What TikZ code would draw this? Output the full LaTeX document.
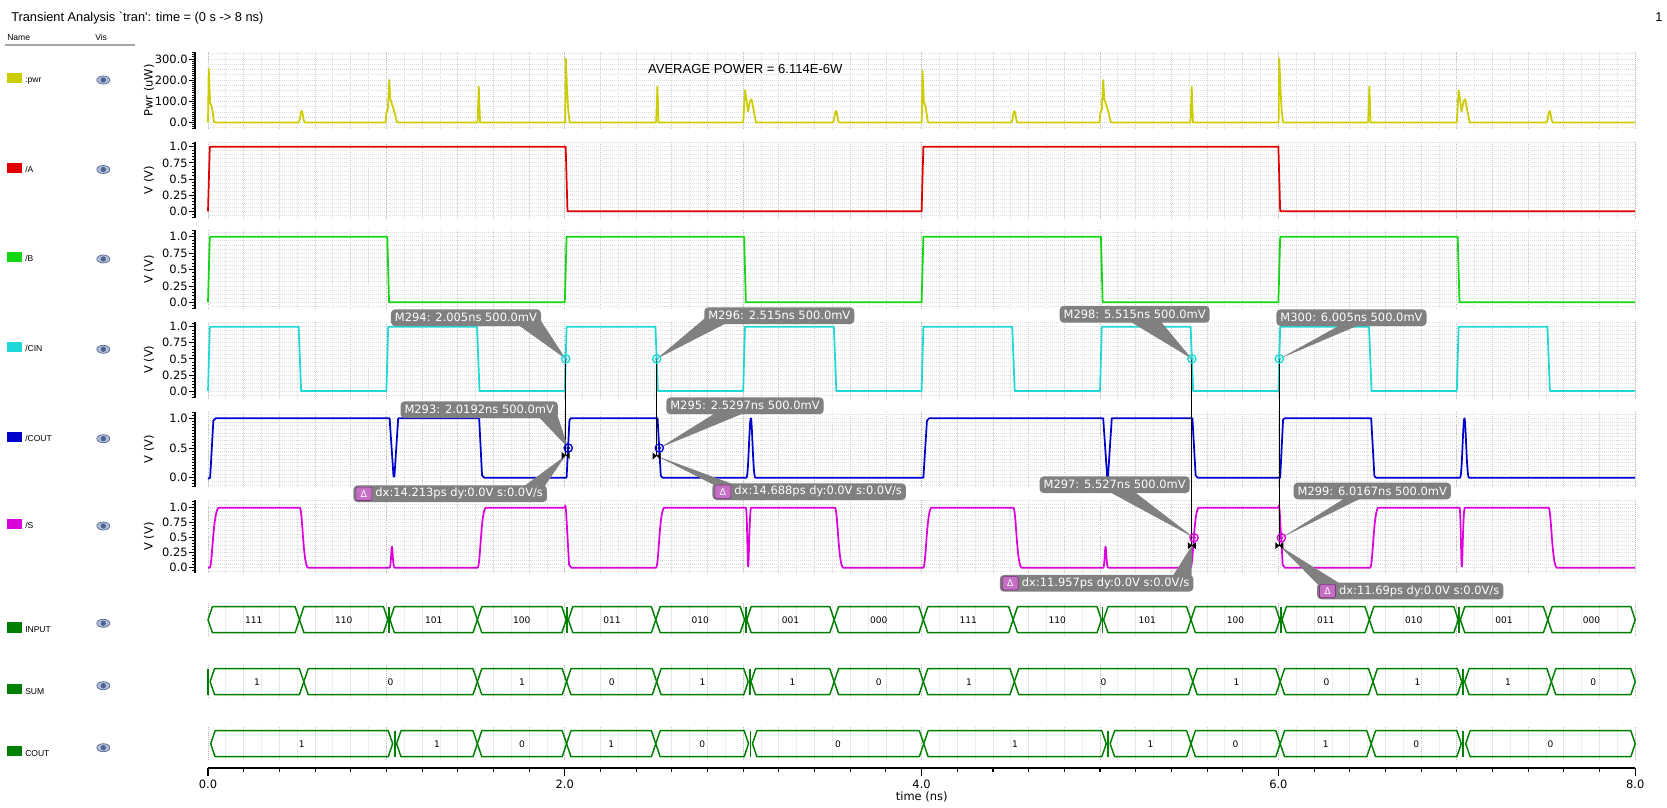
\documentclass[tikz,border=0pt]{standalone}
\usepackage{fontspec}
\setmainfont{DejaVu Sans}
\newfontfamily\lib[Ligatures=TeXOff]{Liberation Sans}
\usetikzlibrary{calc}
\pgfdeclarelayer{wedgelayer}
\pgfdeclarelayer{toplayer}
\pgfsetlayers{main,wedgelayer,toplayer}
\definecolor{pwrc}{RGB}{204,204,0}
\definecolor{ac}{RGB}{225,0,0}
\definecolor{bc}{RGB}{20,215,20}
\definecolor{cinc}{RGB}{30,215,215}
\definecolor{coutc}{RGB}{0,0,205}
\definecolor{sc}{RGB}{220,0,220}
\definecolor{busc}{RGB}{0,128,0}
\definecolor{calgray}{RGB}{128,128,128}
\definecolor{dpurple}{RGB}{196,110,196}
\definecolor{dpurpled}{RGB}{130,50,130}
\definecolor{eyefill}{RGB}{175,190,215}
\definecolor{eyedark}{RGB}{80,100,145}
\newcommand{\vgrid}[2]{%
  \foreach \i in {0,...,80} {\draw[gridl] ({208+17.84*\i},#1) -- ({208+17.84*\i},#2);}
  \foreach \i in {0,2,...,80} {\draw[gridm] ({208+17.84*\i},#1) -- ({208+17.84*\i},#2);}
  \foreach \i in {0,10,...,80} {\draw[gridM] ({208+17.84*\i},#1) -- ({208+17.84*\i},#2);}}
\newcommand{\hgrid}[5]{%
  \foreach \k in {#4,...,#5} {\draw[gridl] (208,{#1-#2*#3*\k}) -- (1635,{#1-#2*#3*\k});}}
\newcommand{\yaxis}[7]{%
  \draw[axl] (195,#1) -- (195,#2);
  \foreach \k in {#6,...,#7} {\draw[axt] (192,{#3-#4*#5*\k}) -- (195,{#3-#4*#5*\k});}}
\newcommand{\bseg}[5]{%
  \draw[busl] ({208+178.4*(#1)},#3) -- ({208+178.4*(#1)+4.4},{#3-13}) -- ({208+178.4*(#2)-4.4},{#3-13}) -- ({208+178.4*(#2)},#3) -- ({208+178.4*(#2)-4.4},{#3+13}) -- ({208+178.4*(#1)+4.4},{#3+13}) -- cycle;
  \node[busval] (#5) at ({208+178.4*((#1)+(#2))/2},#3) {#4};}
\newcommand{\bbar}[2]{\draw[busc, line width=1.4pt] ({208+178.4*(#1)},{#2-13}) -- ({208+178.4*(#1)},{#2+13});}
\newcommand{\eyeicon}[2]{\filldraw[fill=eyefill, draw=eyedark, line width=0.5pt] (#1,#2) ellipse [x radius=6.5, y radius=4]; \fill[eyedark] (#1,#2) circle [radius=2pt];}
\begin{document}
\begin{tikzpicture}[x=0.75pt,y=-0.75pt,
  gridl/.style={draw=gray!27, line width=0.6pt, dash pattern=on 0.75pt off 0.75pt},
  gridm/.style={draw=gray!40, line width=0.6pt, dash pattern=on 0.75pt off 0.75pt},
  gridM/.style={draw=gray!58, line width=0.6pt, dash pattern=on 0.75pt off 0.75pt},
  wave/.style={line width=1.3pt, line join=round},
  busl/.style={draw=busc, line width=1.1pt, line join=round},
  axl/.style={draw=black, line width=1.2pt},
  axt/.style={draw=black, line width=0.6pt},
  tl/.style={font=\fontsize{8.6}{10}\selectfont, anchor=east, inner sep=0pt},
  mcall/.style={fill=calgray, text=white, rounded corners=3pt, font=\fontsize{8.6}{10}\selectfont, inner xsep=3pt, inner ysep=0pt, minimum height=12.5pt},
  dicon/.style={fill=dpurple, draw=dpurpled, line width=0.5pt, rounded corners=1pt, minimum width=12pt, minimum height=10pt, inner sep=0pt, text=white, font=\fontsize{7}{8}\selectfont},
  leftlab/.style={font=\lib\fontsize{6.4}{7}\selectfont, anchor=base west, inner sep=0pt},
  busval/.style={font=\fontsize{6.8}{8}\selectfont, inner sep=0pt},
  ylab/.style={rotate=90, font=\fontsize{8.6}{10}\selectfont, inner sep=0pt}]
\useasboundingbox (0,0) rectangle (1667,807);
\fill[white] (0,0) rectangle (1667,807);
% header
\node[anchor=base west, inner sep=0pt, font=\lib\fontsize{9.6}{11}\selectfont] (title) at (11,21.7) {Transient Analysis `tran': time = (0 s -> 8 ns)};
\node[anchor=base west, inner sep=0pt, font=\lib\fontsize{9.6}{11}\selectfont] (pgnum) at (1655,21.7) {1};
\node[leftlab] (hname) at (7,40) {Name};
\node[leftlab] (hvis) at (95,40) {Vis};
\draw[gray!70, line width=1.5pt] (5,44.5) -- (135,44.5);
% left list
\fill[pwrc] (7,73) rectangle (22,83); \node[leftlab] (lpwr) at (25,82.5) {:pwr}; \eyeicon{103.3}{80}
\fill[ac] (7,162.5) rectangle (22,172.5); \node[leftlab] (la) at (25,172) {/A}; \eyeicon{103.3}{169.5}
\fill[bc] (7,252) rectangle (22,262); \node[leftlab] (lb) at (25,261.5) {/B}; \eyeicon{103.3}{259}
\fill[cinc] (7,342.3) rectangle (22,352.3); \node[leftlab] (lcin) at (25,351.8) {/CIN}; \eyeicon{103.3}{349.3}
\fill[coutc] (7,431.7) rectangle (22,441.7); \node[leftlab] (lcout) at (25,441.2) {/COUT}; \eyeicon{103.3}{438.7}
\fill[sc] (7,519) rectangle (22,529); \node[leftlab] (ls) at (25,528.5) {/S}; \eyeicon{103.3}{526}
\fill[busc] (7,622) rectangle (22,632.5); \node[leftlab] (linput) at (25,632.5) {INPUT}; \eyeicon{103.3}{623.3}
\fill[busc] (7,683.5) rectangle (22,694); \node[leftlab] (lsum) at (25,694) {SUM}; \eyeicon{103.3}{685.7}
\fill[busc] (7,745.5) rectangle (22,756); \node[leftlab] (lcoutb) at (25,756) {COUT}; \eyeicon{103.3}{747.7}
% grids
\vgrid{52}{129} \hgrid{122.5}{0.212}{25}{-1}{13}
\vgrid{141.7}{218.3} \hgrid{211.3}{64.6}{0.0625}{-1}{17}
\vgrid{230}{309} \hgrid{302.3}{65.6}{0.0625}{-1}{17}
\vgrid{321.7}{398} \hgrid{391}{64.3}{0.0625}{-1}{17}
\vgrid{411.7}{486.7} \hgrid{477.7}{59.4}{0.0625}{-2}{17}
\vgrid{500}{573} \hgrid{567.7}{60}{0.0625}{-1}{18}
\vgrid{603}{637} \vgrid{665}{699} \vgrid{727}{761}
% y axes
\yaxis{52}{129}{122.5}{0.212}{10}{-3}{33}
\foreach \v/\lab [count=\n] in {300/300.0,200/200.0,100/100.0,0/0.0} {\draw[axt] (189,{122.5-0.212*\v}) -- (195,{122.5-0.212*\v}); \node[tl] (tp\n) at (188,{122.5-0.212*\v}) {\lab};}
\node[ylab] (ylp) at (149,90.5) {Pwr (uW)};
\yaxis{141.7}{218.3}{211.3}{64.6}{0.05}{-2}{21}
\foreach \v/\lab [count=\n] in {1/1.0,0.75/0.75,0.5/0.5,0.25/0.25,0/0.0} {\draw[axt] (189,{211.3-64.6*\v}) -- (195,{211.3-64.6*\v}); \node[tl] (ta\n) at (188,{211.3-64.6*\v}) {\lab};}
\node[ylab] (yla) at (149,180) {V (V)};
\yaxis{230}{309}{302.3}{65.6}{0.05}{-2}{22}
\foreach \v/\lab [count=\n] in {1/1.0,0.75/0.75,0.5/0.5,0.25/0.25,0/0.0} {\draw[axt] (189,{302.3-65.6*\v}) -- (195,{302.3-65.6*\v}); \node[tl] (tb\n) at (188,{302.3-65.6*\v}) {\lab};}
\node[ylab] (ylb) at (149,269.5) {V (V)};
\yaxis{321.7}{398}{391}{64.3}{0.05}{-2}{21}
\foreach \v/\lab [count=\n] in {1/1.0,0.75/0.75,0.5/0.5,0.25/0.25,0/0.0} {\draw[axt] (189,{391-64.3*\v}) -- (195,{391-64.3*\v}); \node[tl] (tc\n) at (188,{391-64.3*\v}) {\lab};}
\node[ylab] (ylc) at (149,359.8) {V (V)};
\yaxis{411.7}{486.7}{477.7}{59.4}{0.05}{-3}{22}
\foreach \v/\lab [count=\n] in {1/1.0,0.5/0.5,0/0.0} {\draw[axt] (189,{477.7-59.4*\v}) -- (195,{477.7-59.4*\v}); \node[tl] (to\n) at (188,{477.7-59.4*\v}) {\lab};}
\node[ylab] (ylo) at (149,449.2) {V (V)};
\yaxis{500}{573}{567.7}{60}{0.05}{-1}{22}
\foreach \v/\lab [count=\n] in {1/1.0,0.75/0.75,0.5/0.5,0.25/0.25,0/0.0} {\draw[axt] (189,{567.7-60*\v}) -- (195,{567.7-60*\v}); \node[tl] (ts\n) at (188,{567.7-60*\v}) {\lab};}
\node[ylab] (yls) at (149,536.5) {V (V)};
% x axis
\draw[axl, line width=1pt] (208,768) -- (1635,768);
\foreach \i in {0,...,40} {\draw[axt, line width=0.8pt] ({208+35.68*\i},768) -- ({208+35.68*\i},771.5);}
\foreach \i/\lab in {0/0.0,10/2.0,20/4.0,30/6.0,40/8.0} {\draw[axt, line width=0.8pt] ({208+35.68*\i},768) -- ({208+35.68*\i},776); \node[inner sep=0pt, font=\fontsize{8.6}{10}\selectfont] (xl\i) at ({208+35.68*\i},784) {\lab};}
\node[inner sep=0pt, font=\fontsize{8.6}{10}\selectfont] (xtitle) at (921.7,797) {time (ns)};
% pwr
\begin{scope}[shift={(208,122.5)}, xscale=178.4, yscale=-0.212]
\draw[wave, pwrc] (0,0) -- (0.004,255) -- (0.012,95) -- (0.022,72) -- (0.034,3) -- (0.04,0)
 -- (0.507,0) .. controls (0.516,0) and (0.518,55) .. (0.525,55) .. controls (0.532,55) and (0.534,0) .. (0.543,0)
 -- (0.995,0) -- (1.0,45) -- (1.008,60) -- (1.016,200) -- (1.022,110) -- (1.034,80) -- (1.045,50) -- (1.058,3) -- (1.066,0)
 -- (1.511,0) -- (1.518,169) -- (1.525,0)
 -- (2.002,0) -- (2.006,303) -- (2.012,170) -- (2.019,60) -- (2.027,0)
 -- (2.512,0) -- (2.519,169) -- (2.526,0)
 -- (3.0,0) -- (3.004,60) -- (3.01,153) -- (3.018,110) -- (3.027,52) -- (3.038,100) -- (3.047,110) -- (3.058,60) -- (3.072,0)
 -- (3.502,0) .. controls (3.511,0) and (3.513,55) .. (3.52,55) .. controls (3.527,55) and (3.529,0) .. (3.538,0)
 -- (4.001,0) -- (4.005,244) -- (4.013,95) -- (4.023,72) -- (4.035,3) -- (4.041,0)
 -- (4.502,0) .. controls (4.511,0) and (4.513,54) .. (4.52,54) .. controls (4.527,54) and (4.529,0) .. (4.538,0)
 -- (4.997,0) -- (5.002,45) -- (5.01,60) -- (5.018,200) -- (5.024,110) -- (5.036,80) -- (5.047,50) -- (5.06,3) -- (5.068,0)
 -- (5.507,0) -- (5.514,169) -- (5.521,0)
 -- (6.001,0) -- (6.005,303) -- (6.011,170) -- (6.018,60) -- (6.026,0)
 -- (6.503,0) -- (6.51,169) -- (6.517,0)
 -- (7.0,0) -- (7.004,60) -- (7.01,153) -- (7.018,110) -- (7.027,52) -- (7.038,100) -- (7.047,110) -- (7.058,60) -- (7.072,0)
 -- (7.502,0) .. controls (7.511,0) and (7.513,55) .. (7.52,55) .. controls (7.527,55) and (7.529,0) .. (7.538,0)
 -- (8,0);
\end{scope}
% A
\begin{scope}[shift={(208,211.3)}, xscale=178.4, yscale=-64.6]
\draw[wave, ac] (0,0) -- (0.01,1) -- (2.005,1) -- (2.015,0) -- (4.0,0) -- (4.01,1) -- (6.0,1) -- (6.01,0) -- (8,0);
\end{scope}
% B
\begin{scope}[shift={(208,302.3)}, xscale=178.4, yscale=-65.6]
\draw[wave, bc] (0,0) -- (0.01,1) -- (1.005,1) -- (1.015,0) -- (2,0) -- (2.01,1) -- (3.005,1) -- (3.015,0) -- (4,0) -- (4.01,1) -- (5.005,1) -- (5.015,0) -- (6,0) -- (6.01,1) -- (7.005,1) -- (7.015,0) -- (8,0);
\end{scope}
% CIN
\begin{scope}[shift={(208,391)}, xscale=178.4, yscale=-64.3]
\draw[wave, cinc] (0,0) foreach \k in {0,...,7} { -- (\k,0) -- (\k+0.01,1) -- (\k+0.508,1) -- (\k+0.522,0) } -- (8,0);
\coordinate (c1) at (2.005,0.5);
\coordinate (c2) at (2.515,0.5);
\coordinate (c3) at (5.515,0.5);
\coordinate (c4) at (6.005,0.5);
\end{scope}
% COUT
\begin{scope}[shift={(208,477.7)}, xscale=178.4, yscale=-59.4]
\draw[wave, coutc] (0,-0.02) -- (0.012,0) -- (0.03,0.96) -- (0.042,1)
 -- (1.018,1) -- (1.04,0.02) -- (1.045,0.02) -- (1.066,1)
 -- (1.52,1) -- (1.536,0.04) -- (1.548,0)
 -- (2.01,0) -- (2.026,0.97) -- (2.034,1)
 -- (2.52,1) -- (2.538,0.03) -- (2.548,0)
 -- (3.018,0) .. controls (3.03,0) and (3.034,1) .. (3.043,1) .. controls (3.05,1) and (3.055,0) .. (3.068,0)
 -- (4.01,0) -- (4.03,0.96) -- (4.042,1)
 -- (5.018,1) -- (5.04,0.02) -- (5.045,0.02) -- (5.066,1)
 -- (5.518,1) -- (5.536,0.04) -- (5.548,0)
 -- (6.01,0) -- (6.026,0.97) -- (6.034,1)
 -- (6.52,1) -- (6.538,0.03) -- (6.548,0)
 -- (7.018,0) .. controls (7.03,0) and (7.034,1) .. (7.043,1) .. controls (7.05,1) and (7.055,0) .. (7.068,0)
 -- (8,0);
\coordinate (o1) at (2.0192,0.5);
\coordinate (o2) at (2.5297,0.5);
\coordinate (b1) at (2.005,0.374);
\coordinate (b2) at (2.515,0.366);
\end{scope}
% S
\begin{scope}[shift={(208,567.7)}, xscale=178.4, yscale=-60]
\draw[wave, sc] (0,0) -- (0.01,0) .. controls (0.025,0.05) and (0.028,0.95) .. (0.06,1)
 -- (0.515,1) .. controls (0.53,0.95) and (0.533,0.05) .. (0.56,0)
 -- (1.018,0) .. controls (1.026,0) and (1.027,0.35) .. (1.031,0.35) .. controls (1.035,0.35) and (1.036,0) .. (1.046,0)
 -- (1.512,0) .. controls (1.527,0.05) and (1.53,0.95) .. (1.557,1)
 -- (2.0,1) -- (2.003,1.04) -- (2.007,0.95) -- (2.024,0.05) -- (2.036,0)
 -- (2.512,0) .. controls (2.527,0.05) and (2.53,0.95) .. (2.557,1)
 -- (3.015,1) .. controls (3.022,1) and (3.024,0.02) .. (3.028,0.02) .. controls (3.032,0.02) and (3.035,1) .. (3.045,1)
 -- (3.515,1) .. controls (3.53,0.95) and (3.533,0.05) .. (3.56,0)
 -- (4.01,0) .. controls (4.025,0.05) and (4.028,0.95) .. (4.055,1)
 -- (4.515,1) .. controls (4.53,0.95) and (4.533,0.05) .. (4.56,0)
 -- (5.018,0) .. controls (5.026,0) and (5.027,0.35) .. (5.031,0.35) .. controls (5.035,0.35) and (5.036,0) .. (5.046,0)
 -- (5.508,0) .. controls (5.523,0.05) and (5.526,0.95) .. (5.553,1)
 -- (6.0,1) -- (6.003,1.04) -- (6.007,0.95) -- (6.024,0.05) -- (6.036,0)
 -- (6.515,0) .. controls (6.53,0.05) and (6.533,0.95) .. (6.56,1)
 -- (7.015,1) .. controls (7.022,1) and (7.024,0.02) .. (7.028,0.02) .. controls (7.032,0.02) and (7.035,1) .. (7.045,1)
 -- (7.515,1) .. controls (7.53,0.95) and (7.533,0.05) .. (7.56,0)
 -- (8,0);
\coordinate (s1) at (5.527,0.5);
\coordinate (s2) at (6.0167,0.5);
\coordinate (b3) at (5.515,0.367);
\coordinate (b4) at (6.005,0.367);
\end{scope}
% buses
\bseg{0}{0.513}{619.7}{111}{i1}
\bseg{0.513}{1.008}{619.7}{110}{i2}
\bbar{1.014}{619.7}
\bseg{1.02}{1.51}{619.7}{101}{i3}
\bseg{1.51}{2.008}{619.7}{100}{i4}
\bbar{2.014}{619.7}
\bseg{2.02}{2.51}{619.7}{011}{i5}
\bseg{2.51}{3.008}{619.7}{010}{i6}
\bbar{3.014}{619.7}
\bseg{3.02}{3.51}{619.7}{001}{i7}
\bseg{3.51}{4.01}{619.7}{000}{i8}
\bseg{4.01}{4.513}{619.7}{111}{i9}
\bseg{4.513}{5.008}{619.7}{110}{i10}
\bbar{5.014}{619.7}
\bseg{5.02}{5.51}{619.7}{101}{i11}
\bseg{5.51}{6.008}{619.7}{100}{i12}
\bbar{6.014}{619.7}
\bseg{6.02}{6.51}{619.7}{011}{i13}
\bseg{6.51}{7.008}{619.7}{010}{i14}
\bbar{7.014}{619.7}
\bseg{7.02}{7.51}{619.7}{001}{i15}
\bseg{7.51}{8.0}{619.7}{000}{i16}
%
\bbar{0}{681.7}
\bseg{0.012}{0.537}{681.7}{1}{s1l}
\bseg{0.537}{1.51}{681.7}{0}{s2l}
\bseg{1.51}{2.01}{681.7}{1}{s3l}
\bseg{2.01}{2.515}{681.7}{0}{s4l}
\bseg{2.515}{3.028}{681.7}{1}{s5l}
\bbar{3.036}{681.7}
\bseg{3.044}{3.51}{681.7}{1}{s6l}
\bseg{3.51}{4.01}{681.7}{0}{s7l}
\bseg{4.01}{4.52}{681.7}{1}{s8l}
\bseg{4.52}{5.52}{681.7}{0}{s9l}
\bseg{5.52}{6.01}{681.7}{1}{s10l}
\bseg{6.01}{6.53}{681.7}{0}{s11l}
\bseg{6.53}{7.028}{681.7}{1}{s12l}
\bbar{7.036}{681.7}
\bseg{7.044}{7.53}{681.7}{1}{s13l}
\bseg{7.53}{8.0}{681.7}{0}{s14l}
%
\bseg{0.015}{1.035}{743.7}{1}{o1l}
\bbar{1.046}{743.7}
\bseg{1.057}{1.51}{743.7}{1}{o2l}
\bseg{1.51}{2.01}{743.7}{0}{o3l}
\bseg{2.01}{2.51}{743.7}{1}{o4l}
\bseg{2.51}{3.03}{743.7}{0}{o5l}
\bbar{3.041}{743.7}
\bseg{3.052}{4.012}{743.7}{0}{o6l}
\bseg{4.012}{5.035}{743.7}{1}{o7l}
\bbar{5.046}{743.7}
\bseg{5.057}{5.51}{743.7}{1}{o8l}
\bseg{5.51}{6.01}{743.7}{0}{o9l}
\bseg{6.01}{6.52}{743.7}{1}{o10l}
\bseg{6.52}{7.025}{743.7}{0}{o11l}
\bbar{7.037}{743.7}
\bseg{7.05}{8.0}{743.7}{0}{o12l}
% average power
\node[inner sep=0pt, font=\lib\fontsize{9.8}{11}\selectfont] (avgp) at (745.3,68.8) {AVERAGE POWER = 6.114E-6W};
% delta lines
\draw[black, line width=0.6pt] (c1) -- (b1);
\draw[black, line width=0.6pt] (c2) -- (b2);
\draw[black, line width=0.6pt] (c3) -- (b3);
\draw[black, line width=0.6pt] (c4) -- (b4);
% callout boxes (top layer)
\begin{pgfonlayer}{toplayer}
\node[mcall] (m294) at (466,317.7) {M294: 2.005ns 500.0mV};
\node[mcall] (m293) at (479.2,409.7) {M293: 2.0192ns 500.0mV};
\node[mcall] (m296) at (779.3,315.7) {M296: 2.515ns 500.0mV};
\node[mcall] (m295) at (745,405.8) {M295: 2.5297ns 500.0mV};
\node[mcall] (m298) at (1134.7,314.3) {M298: 5.515ns 500.0mV};
\node[mcall] (m300) at (1351.5,317.7) {M300: 6.005ns 500.0mV};
\node[mcall] (m297) at (1114.7,484.7) {M297: 5.527ns 500.0mV};
\node[mcall] (m299) at (1372.3,491) {M299: 6.0167ns 500.0mV};
\node[mcall] (d1) at (450.2,493.8) {\hspace{13.5pt}dx:14.213ps dy:0.0V s:0.0V/s};
\node[mcall] (d2) at (809.2,491.7) {\hspace{13.5pt}dx:14.688ps dy:0.0V s:0.0V/s};
\node[mcall] (d3) at (1096.6,583.3) {\hspace{13.5pt}dx:11.957ps dy:0.0V s:0.0V/s};
\node[mcall] (d4) at (1410.2,591) {\hspace{13.5pt}dx:11.69ps dy:0.0V s:0.0V/s};
\node[dicon] (d1i) at ($(d1.west)+(10.7,0)$) {Δ};
\node[dicon] (d2i) at ($(d2.west)+(10.7,0)$) {Δ};
\node[dicon] (d3i) at ($(d3.west)+(10.7,0)$) {Δ};
\node[dicon] (d4i) at ($(d4.west)+(10.7,0)$) {Δ};
% markers
\foreach \c in {c1,c2,c3,c4} {\draw[cinc, line width=1pt] (\c) circle [radius=3.1pt]; \draw[cinc, line width=0.6pt] (\c) circle [radius=1.1pt];}
\foreach \c in {o1,o2} {\draw[coutc, line width=1pt] (\c) circle [radius=3.1pt]; \draw[coutc, line width=0.6pt] (\c) circle [radius=1.1pt];}
\foreach \c in {s1,s2} {\draw[sc, line width=1pt] (\c) circle [radius=3.1pt]; \draw[sc, line width=0.6pt] (\c) circle [radius=1.1pt];}
\foreach \c in {b1,b2,b3,b4} {\fill[black] (\c) ++(-4,-3.5) -- ++(4,3.5) -- ++(-4,3.5) -- cycle; \fill[black] (\c) ++(4,-3.5) -- ++(-4,3.5) -- ++(4,3.5) -- cycle;}
\end{pgfonlayer}
% wedges (behind the boxes)
\begin{pgfonlayer}{wedgelayer}
\fill[calgray] ($(m294.south east)+(-24,-2)$) -- ($(m294.south east)+(-2,-8)$) -- (c1) -- cycle;
\fill[calgray] ($(m293.south east)+(-20,-2)$) -- ($(m293.south east)+(-2,-7)$) -- (o1) -- cycle;
\fill[calgray] ($(m296.south west)+(2,-7)$) -- ($(m296.south west)+(24,-2)$) -- (c2) -- cycle;
\fill[calgray] ($(m295.south west)+(52,-3)$) -- ($(m295.south west)+(82,-3)$) -- (o2) -- cycle;
\fill[calgray] ($(d1.north east)+(-26,3)$) -- ($(d1.north east)+(-4,3)$) -- (b1) -- cycle;
\fill[calgray] ($(d2.north west)+(4,3)$) -- ($(d2.north west)+(26,3)$) -- (b2) -- cycle;
\fill[calgray] ($(m298.south west)+(68,-3)$) -- ($(m298.south west)+(100,-3)$) -- (c3) -- cycle;
\fill[calgray] ($(m300.south west)+(67,-3)$) -- ($(m300.south west)+(87,-3)$) -- (c4) -- cycle;
\fill[calgray] ($(m297.south west)+(67,-3)$) -- ($(m297.south west)+(93,-3)$) -- (s1) -- cycle;
\fill[calgray] ($(m299.south west)+(54,-3)$) -- ($(m299.south west)+(71,-3)$) -- (s2) -- cycle;
\fill[calgray] ($(d3.north east)+(-22,3)$) -- ($(d3.north east)+(-2,3)$) -- (b3) -- cycle;
\fill[calgray] ($(d4.north west)+(2,3)$) -- ($(d4.north west)+(26,3)$) -- (b4) -- cycle;
\end{pgfonlayer}
\end{tikzpicture}
\end{document}
